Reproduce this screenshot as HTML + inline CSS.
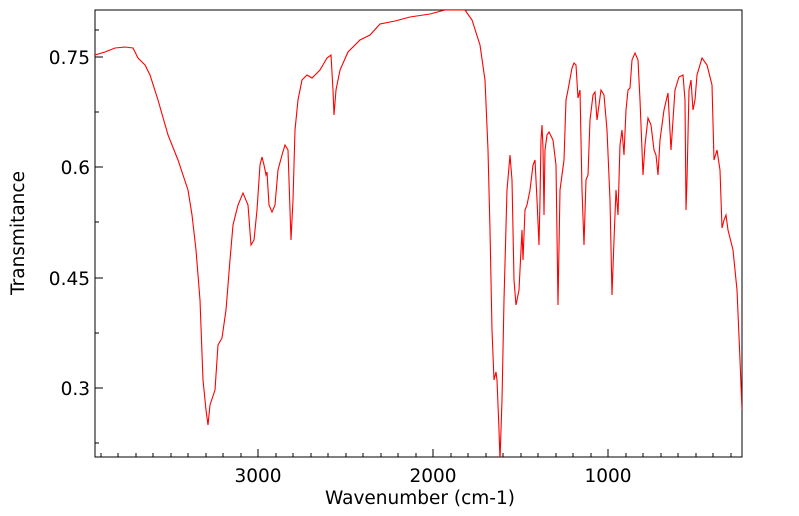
<!DOCTYPE html>
<html><head><style>body{margin:0;background:#fff}svg{display:block}text{font-family:"DejaVu Sans","Liberation Sans",sans-serif;fill:#000}</style></head><body>
<svg width="799" height="516" viewBox="0 0 799 516">
<defs><clipPath id="c"><rect x="95" y="10" width="647" height="447"/></clipPath></defs>
<g stroke="#000" stroke-width="1">
<path d="M95,10V457H742V10Z" fill="none"/>
<path d="M95,57h8M95,167h8M95,278h8M95,388h8M95,112h4M95,222h4M95,333h4M95,443h4M95,30h4"/>
<path d="M258,457v-8M433,457v-8M608,457v-8"/>
<path d="M101,457v-4M118,457v-4M136,457v-4M153,457v-4M171,457v-4M188,457v-4M206,457v-4M223,457v-4M241,457v-4M276,457v-4M293,457v-4M311,457v-4M328,457v-4M346,457v-4M363,457v-4M381,457v-4M398,457v-4M416,457v-4M451,457v-4M468,457v-4M486,457v-4M503,457v-4M521,457v-4M538,457v-4M556,457v-4M573,457v-4M591,457v-4M626,457v-4M643,457v-4M661,457v-4M678,457v-4M696,457v-4M713,457v-4M731,457v-4"/>
</g>
<g font-size="18.5" text-anchor="end"><text x="90" y="64">0.75</text><text x="90" y="174">0.6</text><text x="90" y="285">0.45</text><text x="90" y="395">0.3</text></g>
<g font-size="18.5" text-anchor="middle"><text x="258" y="482">3000</text><text x="433" y="482">2000</text><text x="608" y="482">1000</text>
<text x="420" y="504">Wavenumber (cm-1)</text>
<text transform="translate(24,233) rotate(-90)">Transmitance</text></g>
<polyline clip-path="url(#c)" fill="none" stroke="#f00" stroke-width="1.1" points="95,55 105,52 115,48 125,47 133,48 138,58 145,65 150,75 158,100 168,135 178,160 188,190 192,215 196,250 200,300 203,380 206,410 208,425 210,405 215,390 218,345 222,338 226,310 230,260 233,225 238,205 243,193 248,205 251,245 254,240 257,210 260,165 262,157 264,165 266,175 267,172 269,205 272,212 275,205 278,170 282,155 285,145 288,150 290,210 291,240 293,200 295,130 298,100 302,80 307,75 312,78 320,70 327,58 331,55 333,90 334,115 336,90 340,70 348,52 360,40 370,35 380,24 395,21 410,17 430,14 445,10 465,10 472,20 480,45 485,80 488,150 490,230 492,330 494,380 496,372 497,380 499,430 500,460 502,400 504,300 507,190 510,155 512,180 514,280 516,305 519,290 522,230 523,260 525,210 527,205 530,190 533,165 535,160 537,200 539,245 540,200 541,140 542,125 543,148 544,215 545,150 547,135 549,132 553,140 556,165 558,305 560,190 562,175 564,160 566,100 568,90 572,68 574,63 576,65 578,98 580,90 582,190 584,245 586,180 588,175 590,120 593,95 595,92 597,120 599,105 601,90 604,95 607,130 610,200 612,295 614,240 616,190 618,215 620,145 622,130 624,155 626,110 628,90 630,88 632,60 635,53 638,60 640,100 643,175 645,145 648,118 651,125 654,150 656,155 658,175 660,140 664,110 668,93 671,150 673,120 675,90 679,77 683,75 685,100 686,210 687,180 689,90 691,80 693,110 695,100 697,75 702,58 707,65 712,85 714,160 717,150 720,170 722,228 724,220 726,215 728,230 733,250 737,290 740,360 742,410"/>
</svg>
</body></html>
